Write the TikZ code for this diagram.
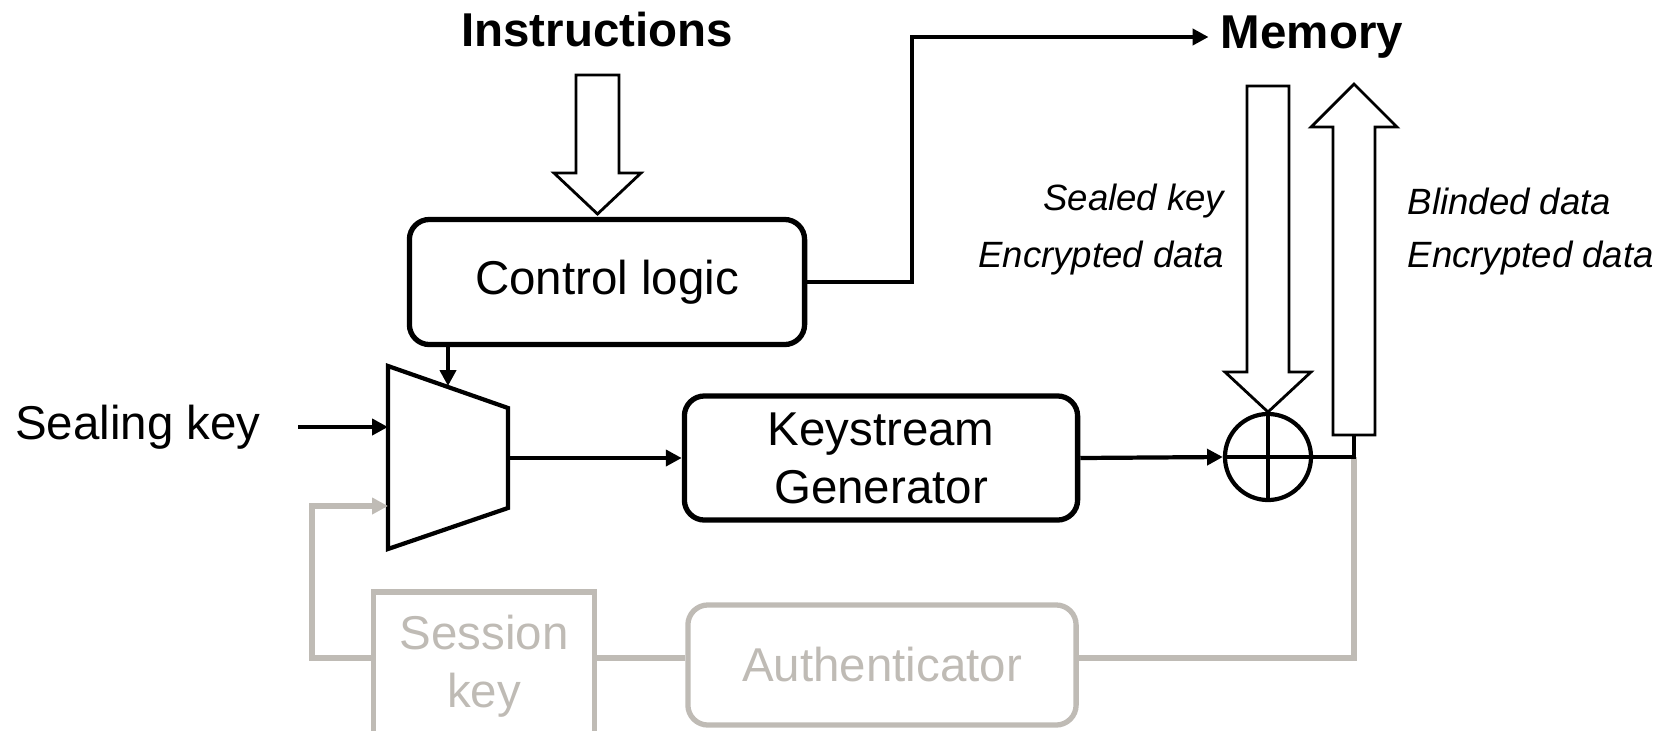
\documentclass[tikz,border=0pt]{standalone}
\usepackage{fontspec}
\setmainfont{Liberation Sans}
\usetikzlibrary{arrows.meta}
\definecolor{ghost}{RGB}{191,187,181}
\begin{document}
\begin{tikzpicture}[x=0.01cm, y=-0.01cm, >={Triangle[length=4.5pt,width=4.5pt]},
  txt/.style={font=\fontsize{13.5}{16.5}\selectfont, align=center},
  bold/.style={font=\fontsize{13.5}{16.5}\selectfont\bfseries},
  box/.style={txt, draw, line width=1.5pt, inner sep=0pt},
  grey/.style={draw=ghost, text=ghost, line width=1.5pt},
  lbl/.style={font=\fontsize{10.4}{12.5}\selectfont\itshape, inner sep=0pt},
  wire/.style={line width=1.2pt},
  hollow/.style={draw, line width=.8pt, fill=white}]
\useasboundingbox (0,0) rectangle (1663,730);

\node[bold] (instr) at (597,30) {Instructions};
\node[bold] (mem) at (1312,37) {Memory};
\node[txt] (seal) at (138,427) {Sealing key};
\node[box, rounded corners=2mm, minimum width=3.95cm, minimum height=1.25cm] (ctrl) at (607,282) {Control logic};
\node[box, rounded corners=2mm, minimum width=3.93cm, minimum height=1.24cm] (keygen) at (881,458) {Keystream\\Generator};
\node[box, grey, minimum width=2.21cm, minimum height=1.48cm] (seskey) at (484,666) {Session\\key};
\node[box, grey, rounded corners=2mm, minimum width=3.88cm, minimum height=1.2cm] (auth) at (882,665) {Authenticator};
\node[draw, circle, line width=1.2pt, inner sep=0pt, minimum size=0.86cm] (xor) at (1268,457) {};

% multiplexer
\coordinate (muxA) at (388,366);
\coordinate (muxB) at (508,408);
\coordinate (muxC) at (508,508);
\coordinate (muxD) at (388,549);
\coordinate (muxsel) at (448,386);
\coordinate (muxin) at (388,506);
\coordinate (muxout) at (508,458);
\coordinate (xorout) at (1354,457);
\coordinate (upbot) at (1354,435);
\coordinate (fbk) at (312,658);
\draw[line width=1.2pt] (muxA) -- (muxB) -- (muxC) -- (muxD) -- cycle;

% grey feedback path
\draw[grey, ->] (fbk -| seskey.west) -- (fbk) |- (muxin);
\draw[grey] (fbk -| seskey.east) -- (fbk -| auth.west);
\draw[grey] (fbk -| auth.east) -| (xorout);

\draw[wire, ->] (ctrl.south -| muxsel) -- (muxsel);
\draw[wire, ->] ([xshift=2.5mm]seal.east) -- (seal.east -| muxA);
\draw[wire, ->] (muxout) -- (muxout -| keygen.west);
\draw[wire, ->] (keygen.east) -- (xor.west);
\draw[wire, ->] (ctrl.east) -- ++(105,0) |- (mem.west);
\draw[wire] (xor.east) -| (upbot);
\draw[line width=1.2pt] (xor.north) -- (xor.south) (xor.west) -- (xor.east);

% wide arrows
\draw[hollow] (576,75) -- (576,173) -- (554,173) -- (597.5,214) -- (641,173) -- (619,173) -- (619,75) -- cycle;
\draw[hollow] (1247,86) -- (1247,372) -- (1225,372) -- (1268,412) -- (1311,372) -- (1289,372) -- (1289,86) -- cycle;
\draw[hollow] (1333,435) -- (1333,127) -- (1311,127) -- (1354,84) -- (1397,127) -- (1375,127) -- (1375,435) -- cycle;

\node[lbl, anchor=east] (sealed) at (1225,201) {Sealed key};
\node[lbl, anchor=east] (encin) at (1225,258) {Encrypted data};
\node[lbl, anchor=west] (blind) at (1407,201) {Blinded data};
\node[lbl, anchor=west] (encout) at (1407,258) {Encrypted data};
\end{tikzpicture}
\end{document}
